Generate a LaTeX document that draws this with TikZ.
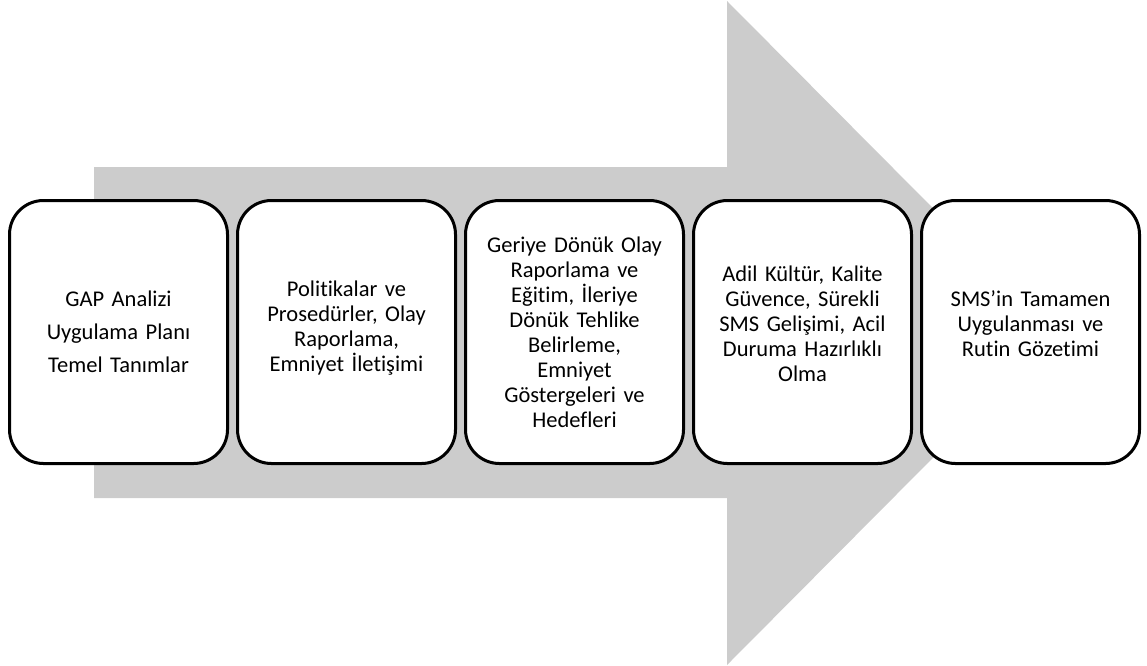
\documentclass[tikz,border=0pt]{standalone}
\usepackage{fontspec}
\setmainfont{Carlito}[Ligatures=NoCommon, WordSpace=0.7]
\begin{document}
\begin{tikzpicture}[x=1pt,y=-1pt,
  stage/.style={draw=black, line width=3pt, fill=white, rounded corners=34pt,
    minimum width=218pt, minimum height=263pt, inner sep=0pt},
  stagetext/.style={align=center, text width=210pt, inner sep=0pt,
    font=\fontsize{22.5pt}{25pt}\selectfont},
  widelead/.style={font=\fontsize{22.5pt}{33pt}\selectfont},
  bigarrow/.style={fill=black!20, draw=none}]
\useasboundingbox (0,0) rectangle (1147,665);
% large background arrow
\fill[bigarrow] (94,167) -- (727,167) -- (727,1) -- (1057,333) -- (727,665)
  -- (727,498) -- (94,498) -- cycle;
% stage boxes
\node[stage] (s1) at (118.5,332) {};
\node[stage] (s2) at (346.5,332) {};
\node[stage] (s3) at (574.5,332) {};
\node[stage] (s4) at (802.5,332) {};
\node[stage] (s5) at (1030.5,332) {};
% stage texts
\node[stagetext, widelead] (t1) at (s1.center) {GAP Analizi\\Uygulama Planı\\Temel Tanımlar};
\node[stagetext] (t2) at ([yshift=4pt]s2.center) {Politikalar ve\\Prosedürler, Olay\\Raporlama,\\Emniyet İletişimi};
\node[stagetext] (t3) at (s3.center) {Geriye Dönük Olay\\Raporlama ve\\Eğitim, İleriye\\Dönük Tehlike\\Belirleme,\\Emniyet\\Göstergeleri ve\\Hedefleri};
\node[stagetext] (t4) at ([yshift=8pt]s4.center) {Adil Kültür, Kalite\\Güvence, Sürekli\\SMS Gelişimi, Acil\\Duruma Hazırlıklı\\Olma};
\node[stagetext] (t5) at ([yshift=8pt]s5.center) {SMS{\char39}in Tamamen\\Uygulanması ve\\Rutin Gözetimi};
\end{tikzpicture}
\end{document}
